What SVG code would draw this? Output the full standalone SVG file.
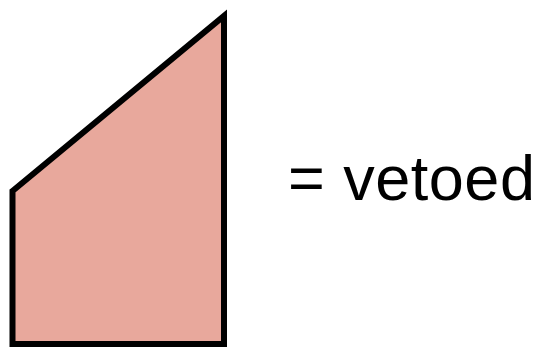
<svg xmlns="http://www.w3.org/2000/svg" width="541" height="347" viewBox="0 0 541 347">
<style>
.shape{fill:#E8A89C;stroke:#000;stroke-width:6;stroke-linejoin:miter;stroke-miterlimit:10}
.lbl{font-family:"Liberation Sans",Arial,sans-serif;font-size:63px;letter-spacing:0.5px;fill:#000}
</style>
<g id="vetoed-shape">
<polygon class="shape" points="12.5,191 224,16 224,344 12.5,344"/>
</g>
<g id="legend-label">
<text class="lbl" x="288" y="200">= vetoed</text>
</g>
<g id="connectors"/>
</svg>
